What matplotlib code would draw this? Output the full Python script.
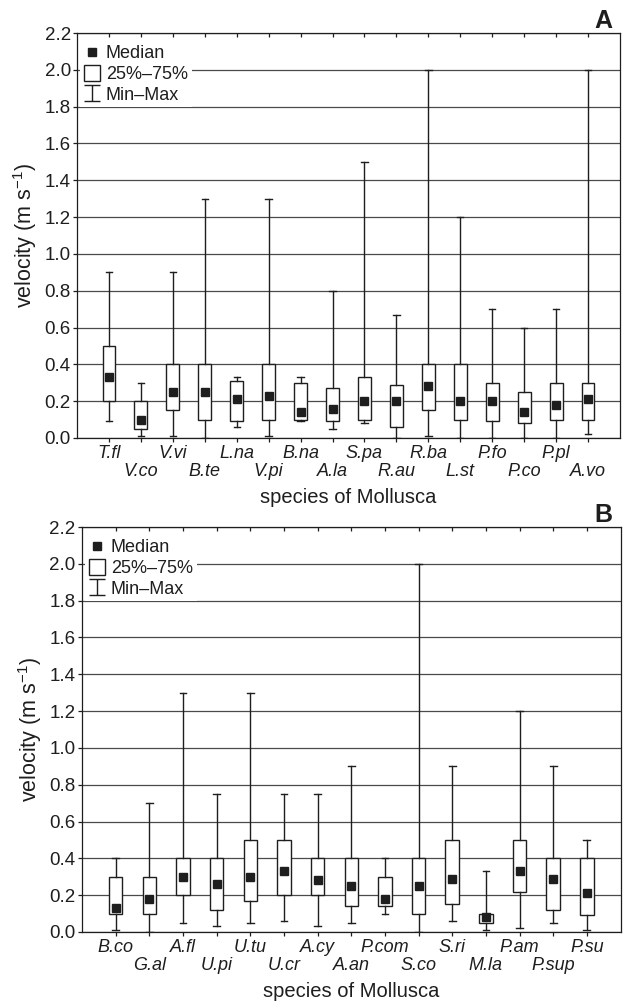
import matplotlib
matplotlib.use("Agg")
import matplotlib.pyplot as plt
from matplotlib.lines import Line2D
from matplotlib.path import Path

plt.rcParams["font.family"] = ["Liberation Sans", "DejaVu Sans"]
plt.rcParams["mathtext.fontset"] = "custom"
plt.rcParams["mathtext.rm"] = "Liberation Sans"
plt.rcParams["mathtext.it"] = "Liberation Sans:italic"

# Panel A: velocity summary per species
species_a = ["T.fl", "V.co", "V.vi", "B.te", "L.na", "V.pi", "B.na", "A.la",
             "S.pa", "R.au", "R.ba", "L.st", "P.fo", "P.co", "P.pl", "A.vo"]
min_a = [0.09, 0.01, 0.01, 0.00, 0.06, 0.01, 0.09, 0.05,
         0.08, 0.00, 0.01, 0.00, 0.00, 0.00, 0.00, 0.02]
q1_a = [0.20, 0.05, 0.15, 0.10, 0.09, 0.10, 0.10, 0.09,
        0.10, 0.06, 0.15, 0.10, 0.09, 0.08, 0.10, 0.10]
med_a = [0.33, 0.10, 0.25, 0.25, 0.21, 0.23, 0.14, 0.16,
         0.20, 0.20, 0.28, 0.20, 0.20, 0.14, 0.18, 0.21]
q3_a = [0.50, 0.20, 0.40, 0.40, 0.31, 0.40, 0.30, 0.27,
        0.33, 0.29, 0.40, 0.40, 0.30, 0.25, 0.30, 0.30]
max_a = [0.90, 0.30, 0.90, 1.30, 0.33, 1.30, 0.33, 0.80,
         1.50, 0.67, 2.00, 1.20, 0.70, 0.60, 0.70, 2.00]

# Panel B
species_b = ["B.co", "G.al", "A.fl", "U.pi", "U.tu", "U.cr", "A.cy", "A.an",
             "P.com", "S.co", "S.ri", "M.la", "P.am", "P.sup", "P.su"]
min_b = [0.01, 0.00, 0.05, 0.03, 0.05, 0.06, 0.03, 0.05,
         0.10, 0.00, 0.06, 0.01, 0.02, 0.05, 0.01]
q1_b = [0.10, 0.10, 0.20, 0.12, 0.17, 0.20, 0.20, 0.14,
        0.14, 0.10, 0.15, 0.05, 0.22, 0.12, 0.09]
med_b = [0.13, 0.18, 0.30, 0.26, 0.30, 0.33, 0.28, 0.25,
         0.18, 0.25, 0.29, 0.08, 0.33, 0.29, 0.21]
q3_b = [0.30, 0.30, 0.40, 0.40, 0.50, 0.50, 0.40, 0.40,
        0.30, 0.40, 0.50, 0.10, 0.50, 0.40, 0.40]
max_b = [0.40, 0.70, 1.30, 0.75, 1.30, 0.75, 0.75, 0.90,
         0.40, 2.00, 0.90, 0.33, 1.20, 0.90, 0.50]

y_ticks = [0.0, 0.2, 0.4, 0.6, 0.8, 1.0, 1.2, 1.4, 1.6, 1.8, 2.0, 2.2]

INK = "#1e1e1e"
GRID = "#4a4a4a"

# I-beam marker for the min-max legend entry
ibeam = Path([(-1, -1), (1, -1), (0, -1), (0, 1), (-1, 1), (1, 1)],
             [Path.MOVETO, Path.LINETO, Path.MOVETO, Path.LINETO,
              Path.MOVETO, Path.LINETO])


def panel(ax, names, lo, q1, med, q3, hi, letter):
    n = len(names)
    pos = list(range(1, n + 1))
    stats = [dict(whislo=a, q1=b, med=c, q3=d, whishi=e, fliers=[])
             for a, b, c, d, e in zip(lo, q1, med, q3, hi)]
    ax.bxp(stats, positions=pos, widths=0.4, patch_artist=True,
           showfliers=False, manage_ticks=False,
           boxprops=dict(facecolor="white", edgecolor=INK, linewidth=1.0),
           whiskerprops=dict(color=INK, linewidth=1.0),
           capprops=dict(color=INK, linewidth=1.0),
           medianprops=dict(linewidth=0),
           capwidths=0.2, zorder=3)
    ax.plot(pos, med, ls="none", marker="s", ms=5.5, color=INK, zorder=4)

    ax.set_xlim(0, n + 1)
    ax.set_ylim(0, 2.2)
    ax.set_yticks(y_ticks)
    ax.set_yticklabels([f"{v:.1f}" for v in y_ticks])
    ax.yaxis.grid(True, color=GRID, linewidth=0.9)
    ax.set_axisbelow(True)

    ax.set_xticks(pos)
    ax.set_xticklabels(names, fontstyle="italic", fontsize=13)
    for i, t in enumerate(ax.xaxis.get_major_ticks()):
        t.set_pad(2.0 if i % 2 == 0 else 15.0)
    ax.tick_params(axis="x", which="both", top=True, direction="out",
                   length=3, width=0.9, color=INK, labelcolor=INK)
    ax.tick_params(axis="y", direction="out", length=3, width=0.9,
                   color=INK, labelsize=13.5, labelcolor=INK, pad=1.5)
    for t in ax.xaxis.get_major_ticks():
        t.tick2line.set_marker(3)  # inward tick on the top spine
        t.tick2line.set_markersize(3)
    for s in ax.spines.values():
        s.set_color(INK)
        s.set_linewidth(0.9)

    ax.set_ylabel(r"velocity (m s$^{-1}$)", fontsize=15.5, color=INK, labelpad=4)
    ax.set_xlabel("species of Mollusca", fontsize=14.5, color=INK, labelpad=6)
    ax.text(1.0 - 8 / 543, 1.0 + 5 / 405, letter, transform=ax.transAxes,
            ha="right", va="baseline", fontsize=18, fontweight="bold", color=INK)

    handles = [
        Line2D([], [], ls="none", marker="s", ms=6, color=INK),
        Line2D([], [], ls="none", marker="s", ms=11, mfc="white", mec=INK, mew=1.0),
        Line2D([], [], ls="none", marker=ibeam, ms=11, mfc="none", mec=INK, mew=1.0),
    ]
    leg = ax.legend(handles, ["Median", "25%\u201375%", "Min\u2013Max"],
                    loc="upper left", bbox_to_anchor=(0.0, 0.985),
                    fontsize=13, frameon=True, fancybox=False,
                    facecolor="white", edgecolor="none", framealpha=1,
                    handlelength=1.0, handletextpad=0.25, labelspacing=0.2,
                    borderpad=0.2, borderaxespad=0.15, labelcolor=INK)
    leg.set_zorder(5)


fig = plt.figure(figsize=(6.25, 10.08), dpi=100)
ax_a = fig.add_axes([77 / 625, 1 - 438 / 1008, 543 / 625, 405 / 1008])
ax_b = fig.add_axes([82 / 625, 1 - 932 / 1008, 538.5 / 625, 405 / 1008])

panel(ax_a, species_a, min_a, q1_a, med_a, q3_a, max_a, "A")
panel(ax_b, species_b, min_b, q1_b, med_b, q3_b, max_b, "B")

fig.savefig("out.png", dpi=100, facecolor="white")
